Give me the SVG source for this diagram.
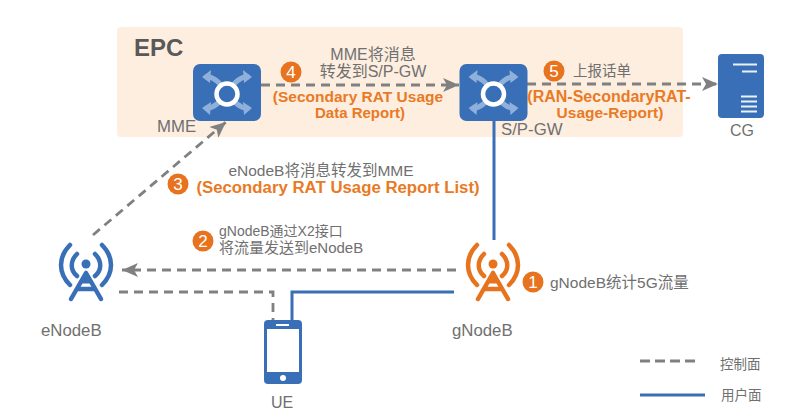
<svg xmlns="http://www.w3.org/2000/svg" width="803" height="417" viewBox="0 0 803 417">
<style>
text{font-family:"Liberation Sans","Noto Sans CJK SC",sans-serif;font-size:15.500px;fill:#707070}
.o{fill:#e97a25;font-weight:bold;font-size:15px}
.m{text-anchor:middle}
.l{font-size:16.800px}
.n{fill:#fff;font-size:17px;text-anchor:middle}
.b{fill:#e8731f}
.d{fill:none;stroke:#808080;stroke-width:2.800;stroke-dasharray:9 6}
.u{fill:none;stroke:#386fb6;stroke-width:3}
.arc{fill:none;stroke-width:4.500;stroke-linecap:round;stroke-linejoin:round}
.sw{fill:none;stroke:#8fb0da;stroke-width:5}
.sa{fill:#8fb0da}
</style>
<defs>
<marker id="ah" markerUnits="userSpaceOnUse" markerWidth="18" markerHeight="16" refX="16" refY="7" orient="auto"><path d="M0 0L16 7L0 14L4 7Z" fill="#808080"/></marker>
<symbol id="sw" width="68" height="57" viewBox="0 0 68 57" overflow="visible">
<rect width="68" height="57" rx="7" fill="#386fb6"/>
<path class="sw" d="M12 13C30 10 38 47 56 44M12 44C30 47 38 10 56 13"/>
<path class="sa" d="M9 13L18 6L17 19ZM59 13L50 6L51 19ZM9 44L18 38L17 51ZM59 44L50 38L51 51Z"/>
<circle cx="34" cy="30" r="10.500" fill="#386fb6" stroke="#fff" stroke-width="4.500"/>
</symbol>
<symbol id="ant" width="54" height="60" viewBox="0 0 54 60" overflow="visible">
<path class="arc" d="M11 2C-1 14 -1 30 11 42M43 2C55 14 55 30 43 42M18 11C11 18 11 27 18 33M36 11C43 18 43 27 36 33"/>
<circle cx="27" cy="21" r="4.500" fill="currentColor" stroke="none"/>
<path class="arc" d="M27 30L12 56M27 30L42 56M18 46H36"/>
<path d="M27 29L21 40H33Z" fill="currentColor"/>
</symbol>
</defs>

<rect id="epc" x="117" y="27" width="566" height="110" rx="4" fill="#fdeee0"/>
<text x="134" y="56" style="font-size:24px;font-weight:bold;fill:#595959">EPC</text>

<g id="connectors">
<path class="d" d="M261 85H459" marker-end="url(#ah)"/>
<path class="d" d="M527 84H718" marker-end="url(#ah)"/>
<path class="d" d="M93 235L226 122" marker-end="url(#ah)"/>
<path class="d" d="M456 270H122" marker-end="url(#ah)"/>
<path class="d" d="M119 292H273V320"/>
<path class="u" d="M494 121V240"/>
<path class="u" d="M454 292H292V320"/>
</g>

<g id="mme"><use href="#sw" x="193" y="64"/><text class="l" x="157" y="132">MME</text></g>
<g id="spgw"><use href="#sw" x="459.500" y="64"/><text class="l" x="501" y="135">S/P-GW</text></g>
<g id="cg">
<rect x="718" y="54" width="46" height="64" rx="4" fill="#386fb6"/>
<path d="M733 64.500H757M742 71.500H757M741 96.500H757M741 101.500H757M741 106.500H757M741 111.500H757" stroke="#fff" stroke-width="2" opacity=".9" fill="none"/>
<text class="m" x="742" y="136" style="font-size:16px">CG</text>
</g>
<g id="enodeb" style="color:#386fb6"><use href="#ant" x="59" y="243" stroke="#386fb6"/><text class="l" x="41" y="336">eNodeB</text></g>
<g id="gnodeb" style="color:#e8731f"><use href="#ant" x="466" y="243" stroke="#e8731f"/><text class="l" x="452" y="336">gNodeB</text></g>
<g id="ue">
<rect x="264" y="320" width="38" height="64" rx="4" fill="#386fb6"/>
<rect x="267" y="329" width="32" height="43" fill="#fff"/>
<rect x="276" y="324" width="13" height="2" fill="#fff"/>
<circle cx="283" cy="378" r="3" fill="#fff"/>
<text class="m" x="282" y="408" style="font-size:16px">UE</text>
</g>

<g id="step1"><circle class="b" cx="533" cy="282" r="10.500"/><text class="n" x="533" y="288">1</text><text x="550" y="288">gNodeB统计5G流量</text></g>
<g id="step2"><circle class="b" cx="203" cy="241" r="10.500"/><text class="n" x="203" y="247">2</text><text x="219" y="236" style="font-size:14px">gNodeB通过X2接口</text><text x="219" y="253" style="font-size:15px">将流量发送到eNodeB</text></g>
<g id="step3"><circle class="b" cx="178" cy="184" r="10.500"/><text class="n" x="178" y="190">3</text><text class="m" x="321" y="176">eNodeB将消息转发到MME</text><text class="o m" x="338" y="193" style="font-size:16.800px">(Secondary RAT Usage Report List)</text></g>
<g id="step4"><circle class="b" cx="291" cy="72" r="10.500"/><text class="n" x="291" y="78">4</text><text class="m" x="373" y="60" style="font-size:16px">MME将消息</text><text class="m" x="373" y="77" style="font-size:16px">转发到S/P-GW</text><text class="o m" x="358" y="102" style="font-size:15.500px">(Secondary RAT Usage</text><text class="o m" x="360" y="118">Data Report)</text></g>
<g id="step5"><circle class="b" cx="554" cy="71" r="10.500"/><text class="n" x="554" y="77">5</text><text x="573" y="76" style="font-size:14.500px">上报话单</text><text class="o m" x="609" y="102" style="font-size:16px">(RAN-SecondaryRAT-</text><text class="o m" x="610" y="118" style="font-size:15.500px">Usage-Report)</text></g>

<g id="legend">
<path class="d" d="M640 361H700" style="stroke-dasharray:10 5"/>
<text x="720" y="369" style="font-size:13.500px">控制面</text>
<path class="u" d="M640 395H705"/>
<text x="721" y="400" style="font-size:13.500px">用户面</text>
</g>
</svg>
